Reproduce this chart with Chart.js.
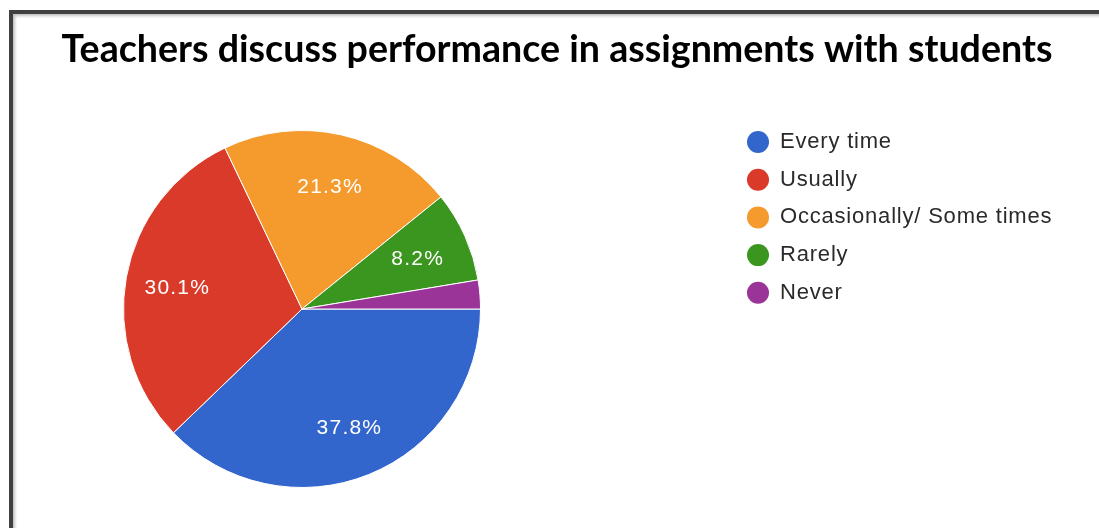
<!DOCTYPE html>
<html>
<head>
<meta charset="utf-8">
<script src="https://cdn.jsdelivr.net/npm/chart.js@4.4.0/dist/chart.umd.min.js"></script>
<style>
  html, body { margin: 0; padding: 0; background: #fff; overflow: hidden; }
  .frame {
    position: absolute; left: 9px; top: 10px; width: 1200px; height: 700px;
    border-left: 4px solid #404040; border-top: 4px solid #404040;
    box-shadow: inset 2px 2px 3px rgba(0, 0, 0, 0.25);
  }
  #wrap { position: absolute; left: 0; top: 0; width: 1099px; height: 528px; }
</style>
</head>
<body>
<div class="frame"></div>
<div id="wrap"><canvas id="pieChart"></canvas></div>
<script>
const chartTitle = 'Teachers discuss performance in assignments with students';
const categories = ['Every time', 'Usually', 'Occasionally/ Some times', 'Rarely', 'Never'];
const shares = [37.8, 30.1, 21.3, 8.2, 2.6];
const colors = ['#3366cc', '#d93a2a', '#f59a2c', '#3b961f', '#9a3498'];

// title drawn at a fixed spot over the frame (not part of the layout)
const titlePlugin = {
  id: 'frameTitle',
  afterDraw(chart) {
    const ctx = chart.ctx;
    ctx.save();
    ctx.font = 'bold 37.6px Lato';
    ctx.fillStyle = '#000';
    ctx.textAlign = 'center';
    ctx.textBaseline = 'alphabetic';
    ctx.fillText(chartTitle, 557, 62);
    ctx.restore();
  },
};

// legend on the right, built from labels + slice colours
const legendPlugin = {
  id: 'sideLegend',
  afterDraw(chart) {
    const ctx = chart.ctx;
    const bg = chart.data.datasets[0].backgroundColor;
    ctx.save();
    ctx.font = '22px "Liberation Sans"';
    ctx.letterSpacing = '0.8px';
    ctx.textBaseline = 'middle';
    chart.data.labels.forEach((label, i) => {
      const y = 142 + i * 37.7;
      ctx.beginPath();
      ctx.arc(758, y, 11, 0, Math.PI * 2);
      ctx.fillStyle = bg[i];
      ctx.fill();
      ctx.fillStyle = '#2a2a2a';
      ctx.fillText(label, 780, y);
    });
    ctx.restore();
  },
};

// percentage text inside the bigger slices
const sliceTextPlugin = {
  id: 'sliceText',
  afterDatasetsDraw(chart) {
    const ctx = chart.ctx;
    const meta = chart.getDatasetMeta(0);
    const values = chart.data.datasets[0].data;
    ctx.save();
    ctx.font = '21px "Liberation Sans"';
    ctx.letterSpacing = '1.2px';
    ctx.fillStyle = '#fff';
    ctx.textAlign = 'center';
    ctx.textBaseline = 'middle';
    meta.data.forEach((arc, i) => {
      if (values[i] < 5) return;
      const { x, y, startAngle, endAngle, outerRadius } = arc.getProps(['x', 'y', 'startAngle', 'endAngle', 'outerRadius'], true);
      const mid = (startAngle + endAngle) / 2;
      const r = outerRadius * 0.71;
      ctx.fillText(values[i].toFixed(1) + '%', x + Math.cos(mid) * r, y + Math.sin(mid) * r + 2);
    });
    ctx.restore();
  },
};

const ctx = document.getElementById('pieChart').getContext('2d');
new Chart(ctx, {
  type: 'pie',
  data: {
    labels: categories,
    datasets: [{
      data: shares,
      backgroundColor: colors,
      borderColor: '#fff',
      borderWidth: 1,
      hoverOffset: 0,
    }],
  },
  options: {
    responsive: true,
    maintainAspectRatio: false,
    animation: false,
    rotation: 90,
    layout: {
      padding: { left: 123, top: 130, right: 618, bottom: 40 },
    },
    plugins: {
      legend: { display: false },
      tooltip: { enabled: false },
      title: { display: false },
    },
  },
  plugins: [sliceTextPlugin, titlePlugin, legendPlugin],
});
</script>
</body>
</html>
